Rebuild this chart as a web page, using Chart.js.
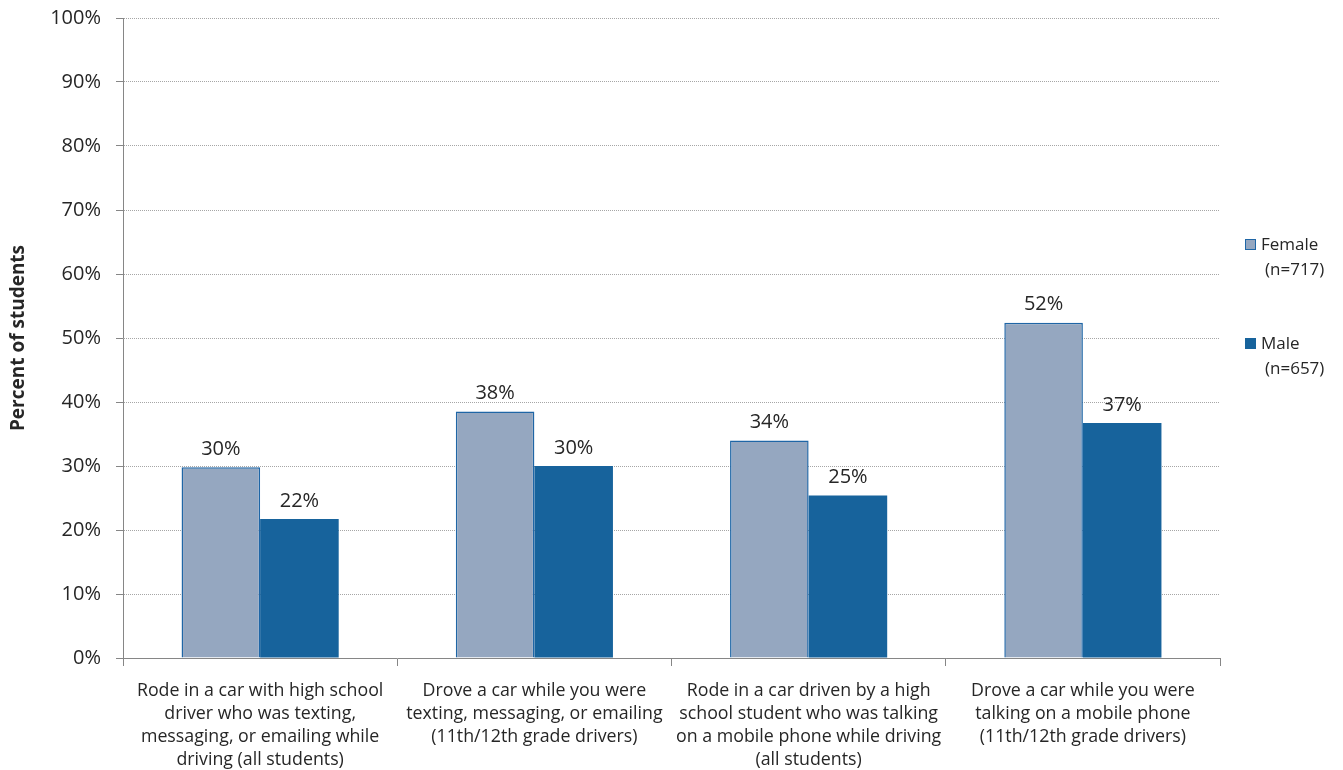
<!DOCTYPE html>
<html>
<head>
<meta charset="utf-8">
<script src="https://cdn.jsdelivr.net/npm/chart.js@4.4.1/dist/chart.umd.min.js"></script>
<style>
  html, body { margin: 0; padding: 0; background: #fff; }
  #wrap { width: 1343px; height: 770px; }
</style>
</head>
<body>
<div id="wrap"><canvas id="myChart"></canvas></div>
<script>
var categories = [
  ["Rode in a car with high school", "driver who was texting,", "messaging, or emailing while", "driving (all students)"],
  ["Drove a car while you were", "texting, messaging, or emailing", "(11th/12th grade drivers)"],
  ["Rode in a car driven by a high", "school student who was talking", "on a mobile phone while driving", "(all students)"],
  ["Drove a car while you were", "talking on a mobile phone", "(11th/12th grade drivers)"]
];
var femaleValues = [29.8, 38.5, 34.0, 52.4];
var maleValues = [21.7, 30.0, 25.4, 36.7];
var femaleLabels = ["30%", "38%", "34%", "52%"];
var maleLabels = ["22%", "30%", "25%", "37%"];
var legendNames = [["Female", "(n=717)"], ["Male", "(n=657)"]];
var yTicks = [0, 10, 20, 30, 40, 50, 60, 70, 80, 90, 100];

var fontFamily = "'Open Sans', 'Noto Sans', sans-serif";

// value labels above each bar
var barLabels = {
  id: 'barLabels',
  afterDatasetsDraw: function(chart) {
    var ctx = chart.ctx;
    var texts = [femaleLabels, maleLabels];
    ctx.save();
    ctx.fillStyle = '#262626';
    ctx.font = '20px ' + fontFamily;
    ctx.textAlign = 'center';
    ctx.textBaseline = 'bottom';
    chart.data.datasets.forEach(function(ds, i) {
      chart.getDatasetMeta(i).data.forEach(function(bar, j) {
        ctx.fillText(texts[i][j], bar.x, bar.y - 8);
      });
    });
    ctx.restore();
  }
};

// legend on the right with two-line labels
var sideLegend = {
  id: 'sideLegend',
  afterDraw: function(chart) {
    var ctx = chart.ctx;
    var x = chart.chartArea.right + 25;
    var tops = [245, 344];
    ctx.save();
    ctx.font = '17px ' + fontFamily;
    ctx.textBaseline = 'middle';
    chart.data.datasets.forEach(function(ds, i) {
      var y = tops[i];
      ctx.fillStyle = ds.backgroundColor;
      ctx.fillRect(x, y - 6, 11, 11);
      ctx.strokeStyle = ds.borderColor;
      ctx.lineWidth = 1;
      ctx.strokeRect(x + 0.5, y - 5.5, 10, 10);
      ctx.fillStyle = '#262626';
      ctx.textAlign = 'left';
      ctx.fillText(legendNames[i][0], x + 16, y);
      ctx.fillText(legendNames[i][1], x + 20, y + 25);
    });
    ctx.restore();
  }
};

var ctx = document.getElementById("myChart");
var myChart = new Chart(ctx, {
  type: 'bar',
  data: {
    labels: categories,
    datasets: [
      {
        label: "Female",
        data: femaleValues,
        backgroundColor: "#95A7C0",
        borderColor: "#1F66A6",
        borderWidth: 1.5,
        borderSkipped: 'bottom'
      },
      {
        label: "Male",
        data: maleValues,
        backgroundColor: "#17639C",
        borderColor: "#17639C",
        borderWidth: 0
      }
    ]
  },
  options: {
    responsive: true,
    maintainAspectRatio: false,
    animation: false,
    layout: { padding: { top: 18, right: 123, left: 7, bottom: 0 } },
    plugins: {
      legend: { display: false },
      tooltip: { enabled: false }
    },
    datasets: {
      bar: { categoryPercentage: 0.573, barPercentage: 1.0 }
    },
    scales: {
      x: {
        afterFit: function(axis) { axis.height = 112; },
        grid: {
          offset: true,
          drawOnChartArea: false,
          drawTicks: true,
          tickLength: 8,
          tickColor: '#868686'
        },
        border: { color: '#868686', width: 1 },
        ticks: {
          color: '#262626',
          font: { family: fontFamily, size: 17.8, lineHeight: 1.3 },
          maxRotation: 0,
          autoSkip: false,
          padding: 13
        }
      },
      y: {
        min: 0,
        max: 100,
        afterFit: function(axis) {
          axis.width = 116;
          axis.paddingTop = 0;
          axis.paddingBottom = 0;
        },
        afterBuildTicks: function(axis) {
          axis.ticks = yTicks.map(function(v) { return { value: v }; });
        },
        grid: {
          color: '#A6A6A6',
          tickColor: '#868686',
          tickLength: 7,
          tickBorderDash: []
        },
        border: { color: '#868686', width: 1, dash: [1, 1] },
        ticks: {
          color: '#262626',
          font: { family: fontFamily, size: 20 },
          padding: 15,
          callback: function(v) { return v + '%'; }
        },
        title: {
          display: true,
          text: 'Percent of students',
          color: '#262626',
          font: { family: fontFamily, size: 19, weight: 'bold' },
          padding: { top: 0, bottom: 14 }
        }
      }
    }
  },
  plugins: [barLabels, sideLegend]
});
</script>
</body>
</html>
